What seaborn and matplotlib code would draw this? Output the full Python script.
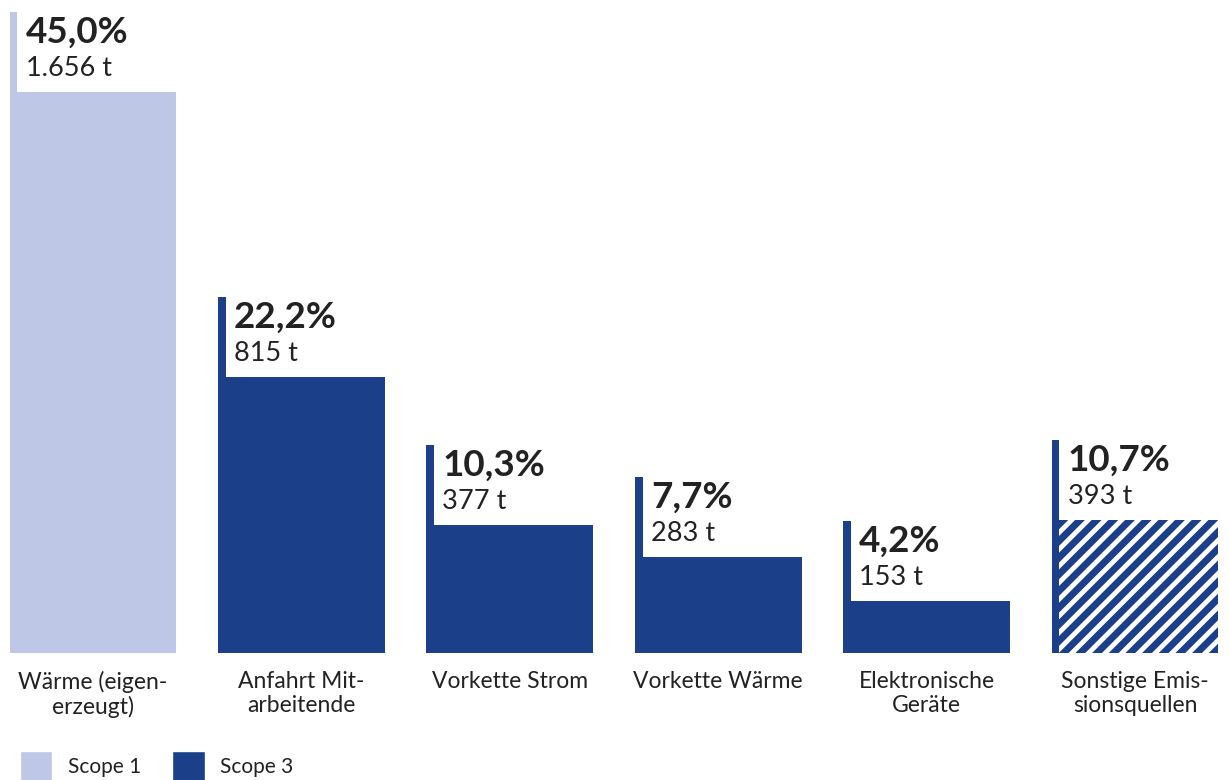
import matplotlib
matplotlib.use("Agg")
import matplotlib.pyplot as plt
import seaborn as sns
import pandas as pd
from matplotlib.patches import Patch

categories = ["Wärme (eigen-\nerzeugt)", "Anfahrt Mit-\narbeitende", "Vorkette Strom",
              "Vorkette Wärme", "Elektronische\nGeräte", "Sonstige Emis-\nsionsquellen"]
tonnes = [1656, 815, 377, 283, 153, 393]
shares = ["45,0%", "22,2%", "10,3%", "7,7%", "4,2%", "10,7%"]
tonne_labels = ["1.656 t", "815 t", "377 t", "283 t", "153 t", "393 t"]
scopes = ["Scope 1", "Scope 3", "Scope 3", "Scope 3", "Scope 3", "Scope 3"]
hatched = [False, False, False, False, False, True]

LIGHT = "#BEC7E6"
DARK = "#1B3F89"
TEXT = "#222222"
scope_colors = {"Scope 1": LIGHT, "Scope 3": DARK}

sns.set_theme(style="white")
plt.rcParams["font.family"] = ["Lato", "DejaVu Sans"]
plt.rcParams["hatch.linewidth"] = 5.0

fig = plt.figure(figsize=(12.29, 7.80), dpi=100)
ax = fig.add_axes([0, 127 / 780, 1, 653 / 780])

df = pd.DataFrame({"cat": categories, "t": tonnes, "scope": scopes})
sns.barplot(data=df, x="cat", y="t", hue="cat",
            palette=[scope_colors[s] for s in scopes],
            width=0.8, legend=False, ax=ax, saturation=1, linewidth=0)

bars = [c[0] for c in ax.containers]
for b, h, s in zip(bars, hatched, scopes):
    if h:
        b.set_facecolor("white")
        b.set_edgecolor(scope_colors[s])
        b.set_hatch("//")
        b.set_linewidth(0)

ext = 236  # marker line extension above bar (in tonnes scale)
for i, (t, s) in enumerate(zip(tonnes, scopes)):
    left = i - 0.4
    ax.bar(left, t + ext, width=0.037, align="edge", color=scope_colors[s], linewidth=0)
    ax.annotate(shares[i], xy=(left + 0.077, t), xytext=(0, 35.3), textcoords="offset points",
                ha="left", va="baseline", fontsize=26.5, fontweight="bold", color=TEXT)
    ax.annotate(tonne_labels[i], xy=(left + 0.077, t), xytext=(0, 11.5), textcoords="offset points",
                ha="left", va="baseline", fontsize=19.5, color=TEXT)

ax.set_xlim(-0.446, 5.451)
ax.set_ylim(0, 1927.5)
ax.set_xlabel("")
ax.set_ylabel("")
ax.set_yticks([])
ax.tick_params(axis="x", length=0, pad=13, labelsize=16.5, colors=TEXT)
for lbl in ax.get_xticklabels():
    lbl.set_linespacing(1.15)
for sp in ax.spines.values():
    sp.set_visible(False)

handles = [Patch(facecolor=LIGHT, label="Scope 1"), Patch(facecolor=DARK, label="Scope 3")]
fig.legend(handles=handles, loc="upper left", bbox_to_anchor=(20 / 1229, 29 / 780),
           ncol=2, frameon=False, fontsize=15, handlelength=1.55, handleheight=1.9,
           handletextpad=0.75, columnspacing=1.5, borderaxespad=0, borderpad=0,
           labelcolor=TEXT)

fig.savefig("out.png", dpi=100)
